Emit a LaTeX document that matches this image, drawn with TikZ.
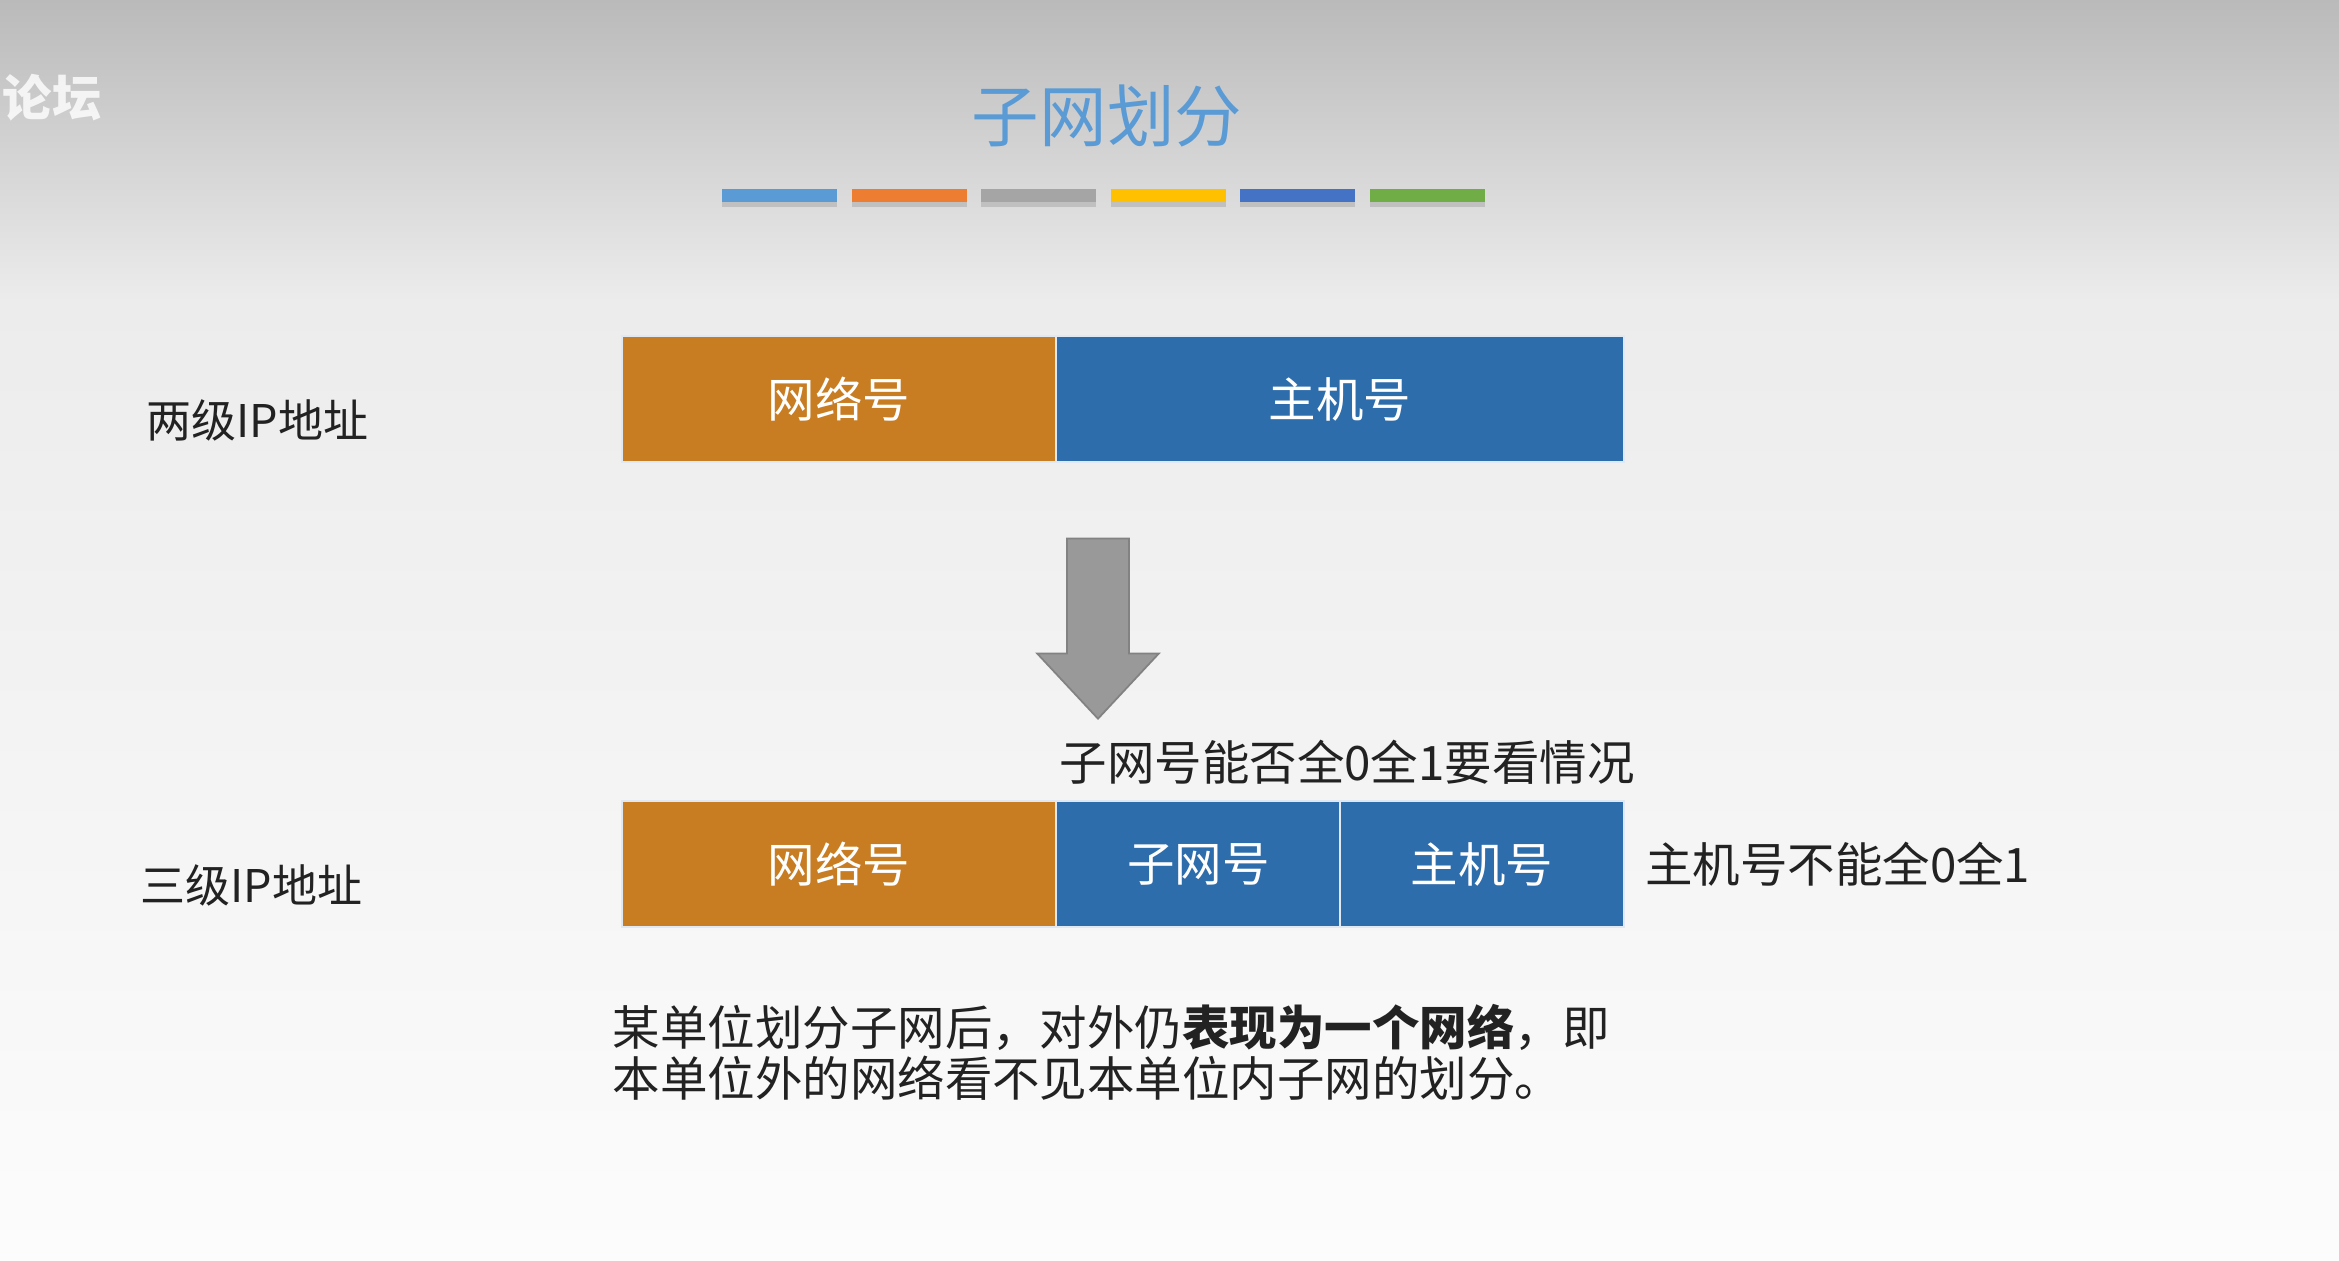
\documentclass[tikz,border=0pt]{standalone}
\usepackage{fontspec}
\usepackage{xcolor}
\usepackage{tikz}
\usetikzlibrary{arrows.meta, positioning, shapes.arrows, shadows}
\newfontfamily\cjk{Noto Sans CJK SC}
\definecolor{titleblue}{RGB}{91, 155, 213}
\definecolor{netorange}{RGB}{200, 125, 34}
\definecolor{hostblue}{RGB}{46, 109, 171}
\definecolor{arrowgray}{RGB}{153, 153, 153}
\definecolor{textdark}{RGB}{34, 34, 34}
\definecolor{bgtop}{RGB}{186, 186, 186}
\definecolor{bgmid}{RGB}{236, 236, 236}
\definecolor{bgbottom}{RGB}{252, 252, 252}
\definecolor{barblue}{RGB}{91, 155, 213}
\definecolor{barorange}{RGB}{237, 125, 49}
\definecolor{bargray}{RGB}{165, 165, 165}
\definecolor{baryellow}{RGB}{255, 192, 0}
\definecolor{bardarkblue}{RGB}{68, 114, 196}
\definecolor{bargreen}{RGB}{112, 173, 71}

\begin{document}
\begin{tikzpicture}[x=0.01cm, y=-0.01cm,
		field/.style={rectangle, draw=white!85!hostblue, line width=0.6pt, minimum height=1.26cm, inner sep=0pt, outer sep=0pt, text=white, font=\cjk\fontsize{13.5pt}{16pt}\selectfont},
		note/.style={inner sep=0pt, text=textdark, font=\cjk\fontsize{13.5pt}{16pt}\selectfont},
		tier/.style={note, anchor=west, font=\cjk\fontsize{12.8pt}{15pt}\selectfont},
		bar/.style={rectangle, minimum width=1.15cm, minimum height=0.13cm, inner sep=0pt, drop shadow={opacity=0.3, shadow xshift=0pt, shadow yshift=-0.05cm}},
		downarrow/.style={single arrow, fill=arrowgray, draw=arrowgray!85!black, line width=0.5pt, minimum height=1.8cm, minimum width=1.2cm, single arrow head extend=0.3cm, single arrow tip angle=86, inner sep=0.3cm, rotate=-90}
	]
	% Slide background
	\useasboundingbox (0,0) rectangle (2339,1260);
	\shade[top color=bgmid, bottom color=bgbottom] (0,300) rectangle (2339,1260);
	\shade[top color=bgtop, bottom color=bgmid] (0,0) rectangle (2339,301);
	\node[text=white, opacity=0.8, font=\cjk\bfseries\fontsize{14pt}{16pt}\selectfont] (mark) at (52,98) {论坛};
	
	% Title and colour bars
	\node[text=titleblue, font=\cjk\fontsize{19.2pt}{22pt}\selectfont] (title) at (1107,116) {子网划分};
	\foreach \c [count=\i from 0] in {barblue, barorange, bargray, baryellow, bardarkblue, bargreen}
		\node[bar, fill=\c] (bar\i) at (779.5+129.6*\i,195.5) {};
	
	% Two-level address
	\node[field, fill=netorange, minimum width=4.34cm, anchor=north west] (net1) at (622,336) {网络号};
	\node[field, fill=hostblue, minimum width=5.67cm, right=0pt of net1] (host1) {主机号};
	\node[tier] (two) at (146,420) {两级IP地址};
	
	% Arrow between the two rows
	\node[downarrow, anchor=tip] (shift) at (1098,720) {};
	
	% Three-level address
	\node[field, fill=netorange, minimum width=4.34cm, anchor=north west] (net2) at (622,801) {网络号};
	\node[field, fill=hostblue, minimum width=2.84cm, right=0pt of net2] (sub2) {子网号};
	\node[field, fill=hostblue, minimum width=2.83cm, right=0pt of sub2] (host2) {主机号};
	\node[tier] (three) at (140,885) {三级IP地址};
	
	% Remarks
	\node[note, anchor=west] (subnote) at (1059,762) {子网号能否全0全1要看情况};
	\node[note, right=0.21cm of host2] (hostnote) {主机号不能全0全1};
	\node[note, anchor=west, align=left, font=\cjk\fontsize{13.5pt}{14.5pt}\selectfont] (remark) at (612,1052) {某单位划分子网后，对外仍{\bfseries 表现为一个网络}，即\\本单位外的网络看不见本单位内子网的划分。};
\end{tikzpicture}
\end{document}
